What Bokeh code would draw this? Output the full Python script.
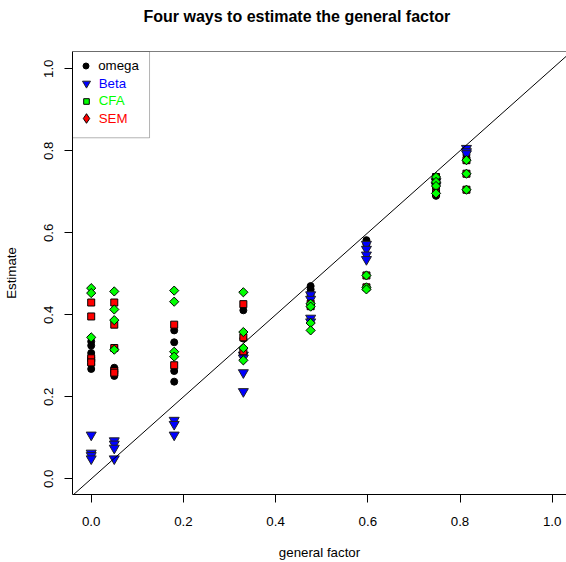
import math
from bokeh.plotting import figure
from bokeh.models import (Range1d, FixedTicker, PrintfTickFormatter, Slope, Span,
                          Legend, LegendItem, BoxAnnotation, Title)
from bokeh.embed import file_html
from bokeh.resources import INLINE

FONT = "Liberation Sans"

# ---------------- data ----------------
general_factor = [0.0, 0.05, 0.18, 0.33, 0.476, 0.597, 0.748, 0.814]

omega_est = [
    [0.335, 0.325, 0.307, 0.295, 0.280, 0.268],
    [0.318, 0.271, 0.261, 0.251],
    [0.362, 0.333, 0.263, 0.237],
    [0.411, 0.342, 0.305],
    [0.470, 0.462, 0.455, 0.448],
    [0.582, 0.577, 0.572, 0.565],
    [0.732, 0.722, 0.712, 0.698, 0.690],
    [0.800, 0.790, 0.777, 0.744, 0.705],
]
beta_est = [
    [0.107, 0.063, 0.057, 0.049],
    [0.093, 0.085, 0.075, 0.049],
    [0.143, 0.133, 0.107],
    [0.302, 0.295, 0.259, 0.213],
    [0.449, 0.438, 0.392, 0.383],
    [0.572, 0.560, 0.546, 0.535],
    [0.725, 0.715],
    [0.806, 0.798, 0.793],
]
cfa_est = [
    [0.430, 0.396, 0.294, 0.284],
    [0.430, 0.376, 0.319, 0.263, 0.259],
    [0.376, 0.277],
    [0.426, 0.345, 0.311],
    [0.421, 0.427],
    [0.496, 0.467],
    [0.736, 0.724, 0.714, 0.696],
    [0.777, 0.744, 0.705],
]
sem_est = [
    [0.465, 0.453, 0.345],
    [0.457, 0.413, 0.387, 0.315],
    [0.459, 0.432, 0.310, 0.298],
    [0.455, 0.358, 0.319, 0.289],
    [0.427, 0.380, 0.362, 0.420],
    [0.496, 0.467, 0.462],
    [0.736, 0.724, 0.714, 0.696],
    [0.777, 0.744, 0.705],
]

ticks = [0.0, 0.2, 0.4, 0.6, 0.8, 1.0]
legend_labels = ["omega", "Beta", "CFA", "SEM"]
legend_colors = ["black", "blue", "#00FF00", "red"]


def flatten(cols):
    xs, ys = [], []
    for gx, vals in zip(general_factor, cols):
        for v in vals:
            xs.append(gx)
            ys.append(v)
    return xs, ys


# ---------------- figure ----------------
FRAME_H = 445
p = figure(width=566, height=562, output_backend="svg", toolbar_location=None,
           title=None,
           x_range=Range1d(-0.0406, 1.031), y_range=Range1d(-0.0381, 1.042),
           min_border_left=72, min_border_right=0, min_border_top=49,
           min_border_bottom=68)
p.outline_line_color = None
p.grid.visible = False
p.background_fill_color = "white"
p.border_fill_color = "white"

# spacer between frame and title, then the title itself (further out)
p.add_layout(Title(text=" ", text_font_size="18px", standoff=0), "above")
p.add_layout(Title(text="Four ways to estimate the general factor",
                   text_font=FONT, text_font_size="16px", text_font_style="bold",
                   text_color="black", align="left", offset=71), "above")

for ax in (p.xaxis[0], p.yaxis[0]):
    ax.ticker = FixedTicker(ticks=ticks)
    ax.formatter = PrintfTickFormatter(format="%.1f")
    ax.minor_tick_line_color = None
    ax.major_tick_in = 0
    ax.major_tick_out = 8
    ax.major_tick_line_color = "black"
    ax.axis_line_color = "black"
    ax.major_label_text_font = FONT
    ax.major_label_text_font_size = "13.3px"
    ax.major_label_text_color = "black"
    ax.axis_label_text_font = FONT
    ax.axis_label_text_font_size = "13.3px"
    ax.axis_label_text_font_style = "normal"
    ax.axis_label_text_color = "black"

p.xaxis.axis_label = "general factor"
p.xaxis.major_label_standoff = 14
p.xaxis.axis_label_standoff = 16
p.yaxis.axis_label = "Estimate"
p.yaxis.major_label_orientation = "vertical"
p.yaxis.major_label_standoff = 11
p.yaxis.axis_label_standoff = 23

# top border of the box
p.add_layout(Span(location=p.y_range.end, dimension="width",
                  line_color="black", line_width=1))

# identity line
p.add_layout(Slope(gradient=1, y_intercept=0, line_color="black", line_width=1))

# ---------------- points ----------------
ox, oy = flatten(omega_est)
bx, by = flatten(beta_est)
cx, cy = flatten(cfa_est)
sx, sy = flatten(sem_est)

p.scatter(ox, oy, marker="circle", size=7, fill_color="black", line_color="black")
p.scatter(bx, by, marker="inverted_triangle", size=10, fill_color="blue",
          line_color="#222222", line_width=1)
p.scatter(cx, cy, marker="square", size=7, fill_color="red", line_color="black")
p.scatter(sx, sy, marker="square", size=6.5, angle=math.pi / 4,
          fill_color="#00FF00", line_color="black")

# ---------------- legend ----------------
lg_renderers = [
    p.scatter(ox, oy, marker="circle", fill_color="black", line_color="black",
              visible=False),
    p.scatter(bx, by, marker="inverted_triangle", fill_color="blue",
              line_color="#222222", visible=False),
    p.scatter(cx, cy, marker="square", fill_color="#00FF00", line_color="black",
              visible=False),
    p.scatter(sx, sy, marker="diamond", fill_color="red",
              line_color="black", visible=False),
]
glyph_boxes = [15, 20, 14, 24]   # legend glyph box size -> marker size 0.4*box

p.add_layout(BoxAnnotation(left=p.x_range.start, right=0.1265,
                           top=p.y_range.end, bottom=0.8316,
                           fill_alpha=0, line_color="black", line_width=1,
                           level="overlay"))

LABEL_H = 17
STEP = 17.5
FIRST_CENTER = 16.7
GLYPH_CX = 13.7
TEXT_X = 26.3
for i, (lab, col, r, w) in enumerate(zip(legend_labels, legend_colors,
                                         lg_renderers, glyph_boxes)):
    h = max(w, LABEL_H)
    center = FIRST_CENTER + i * STEP
    vx = GLYPH_CX - w / 2
    lg = Legend(items=[LegendItem(label=lab, renderers=[r])],
                location=(vx, FRAME_H - (center + h / 2)),
                padding=0, margin=0, spacing=0,
                glyph_width=w, glyph_height=w, label_height=LABEL_H,
                label_standoff=int(round(TEXT_X - vx - w)),
                border_line_color=None, background_fill_alpha=0,
                inactive_fill_alpha=0,
                label_text_font=FONT, label_text_font_size="13.3px",
                label_text_color=col)
    p.add_layout(lg)

open("out.html", "w").write(file_html(p, INLINE))
